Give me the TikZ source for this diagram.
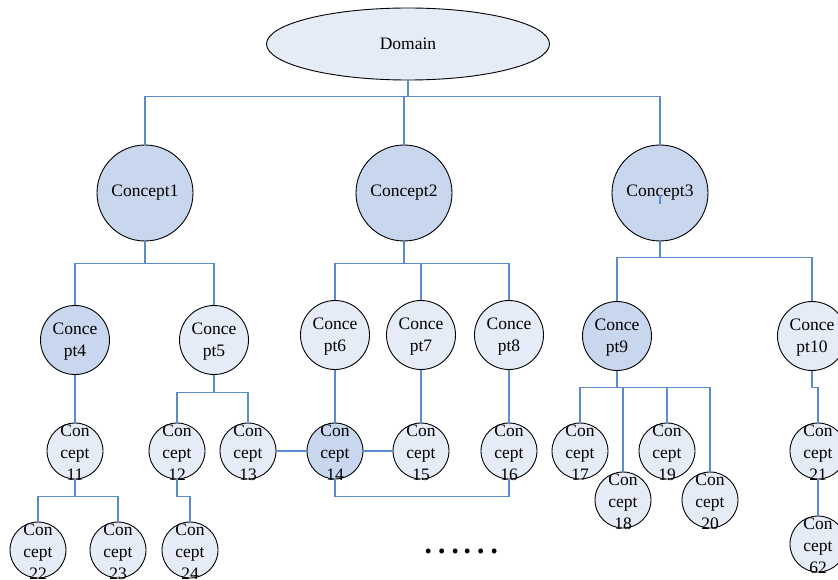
\documentclass[tikz,border=0pt]{standalone}
\usepackage{fontspec}
\setmainfont{Liberation Serif}
\newfontfamily\cjk{Noto Sans CJK SC}
\usetikzlibrary{shapes.geometric}
\definecolor{lightfill}{HTML}{E6ECF7}
\definecolor{darkfill}{HTML}{C9D7EE}
\definecolor{conncol}{HTML}{5A8AD2}
\begin{document}
\begin{tikzpicture}[x=1pt,y=-1pt,
  txt/.style={font=\fontsize{17.5}{22}\selectfont,align=center,text=black},
  lbl/.style={txt,yshift=-2pt},
  big/.style={circle,draw=black,line width=0.9pt,minimum size=96pt,inner sep=0pt,fill=darkfill},
  mid/.style={circle,draw=black,line width=0.9pt,minimum size=69pt,inner sep=0pt,fill=lightfill},
  small/.style={circle,draw=black,line width=0.9pt,minimum size=56pt,inner sep=0pt,fill=lightfill},
  dark/.style={fill=darkfill},
  conn/.style={draw=conncol,line width=1.1pt}]
\useasboundingbox (0,0) rectangle (838,580);
% nodes
\node[ellipse,draw=black,line width=0.9pt,fill=lightfill,minimum width=283pt,minimum height=72pt,inner sep=0pt,txt] (dom) at (408,44) {Domain};
\node[big,txt] (c1) at (145,193) {Concept1};
\node[big,txt] (c2) at (404,193) {Concept2};
\node[big,txt] (c3) at (660,193) {Concept3};
\node[mid,dark,label={[lbl]center:Conce\\pt4}] (c4) at (75,340) {};
\node[mid,label={[lbl]center:Conce\\pt5}] (c5) at (214,340) {};
\node[mid,label={[lbl]center:Conce\\pt6}] (c6) at (335,335) {};
\node[mid,label={[lbl]center:Conce\\pt7}] (c7) at (421,335) {};
\node[mid,label={[lbl]center:Conce\\pt8}] (c8) at (509,335) {};
\node[mid,dark,label={[lbl]center:Conce\\pt9}] (c9) at (617,336) {};
\node[mid,label={[lbl]center:Conce\\pt10}] (c10) at (812,336) {};
\node[small,label={[lbl]center:Con\\cept\\11}] (c11) at (75,451) {};
\node[small,label={[lbl]center:Con\\cept\\12}] (c12) at (177,451) {};
\node[small,label={[lbl]center:Con\\cept\\13}] (c13) at (248,451) {};
\node[small,dark,label={[lbl]center:Con\\cept\\14}] (c14) at (335,451) {};
\node[small,label={[lbl]center:Con\\cept\\15}] (c15) at (421,451) {};
\node[small,label={[lbl]center:Con\\cept\\16}] (c16) at (509,451) {};
\node[small,label={[lbl]center:Con\\cept\\17}] (c17) at (580,451) {};
\node[small,label={[lbl]center:Con\\cept\\18}] (c18) at (623,500) {};
\node[small,label={[lbl]center:Con\\cept\\19}] (c19) at (667,451) {};
\node[small,label={[lbl]center:Con\\cept\\20}] (c20) at (710,500) {};
\node[small,label={[lbl]center:Con\\cept\\21}] (c21) at (818,451) {};
\node[small,label={[lbl]center:Con\\cept\\22}] (c22) at (38,550) {};
\node[small,label={[lbl]center:Con\\cept\\23}] (c23) at (118,550) {};
\node[small,label={[lbl]center:Con\\cept\\24}] (c24) at (190,550) {};
\node[small,label={[lbl]center:Con\\cept\\62}] (c62) at (818,544) {};
\node[font=\cjk\fontsize{36}{36}\selectfont,inner sep=0pt] (dots) at (461,551) {……};
% connectors
\draw[conn] (dom.south) -- ++(0,16) coordinate (db);
\draw[conn] (db) -| (c1.north);
\draw[conn] (db) -| (c2.north);
\draw[conn] (db) -| (c3.north);
\draw[conn] (c3.center) ++(0,2) coordinate (tk) -- ++(0,9);
\draw[conn] (c1.south) -- ++(0,22) coordinate (b1);
\draw[conn] (b1) -| (c4.north);
\draw[conn] (b1) -| (c5.north);
\draw[conn] (c2.south) -- ++(0,22) coordinate (b2);
\draw[conn] (b2) -| (c6.north);
\draw[conn] (b2) -| (c7.north);
\draw[conn] (b2) -| (c8.north);
\draw[conn] (c3.south) -- ++(0,16) coordinate (b3);
\draw[conn] (b3) -| (c9.north);
\draw[conn] (b3) -| (c10.north);
\draw[conn] (c4.south) -- (c11.north);
\draw[conn] (c5.south) -- ++(0,17.5) coordinate (b5);
\draw[conn] (b5) -| (c12.north);
\draw[conn] (b5) -| (c13.north);
\draw[conn] (c6.south) -- (c14.north);
\draw[conn] (c7.south) -- (c15.north);
\draw[conn] (c8.south) -- (c16.north);
\draw[conn] (c9.south) -- ++(0,16.5) coordinate (b9);
\draw[conn] (b9) -| (c17.north);
\draw[conn] (b9) -| (c18.north);
\draw[conn] (b9) -| (c19.north);
\draw[conn] (b9) -| (c20.north);
\draw[conn] (c10.south) -- ++(0,16.5) -| (c21.north);
\draw[conn] (c21.south) -- (c62.north);
\draw[conn] (c11.south) -- ++(0,17) coordinate (b11);
\draw[conn] (b11) -| (c22.north);
\draw[conn] (b11) -| (c23.north);
\draw[conn] (c12.south) -- ++(0,17) -| (c24.north);
\draw[conn] (c13.east) -- (c14.west);
\draw[conn] (c14.east) -- (c15.west);
\draw[conn] (c14.south) -- ++(0,17) -| (c16.south);
\end{tikzpicture}
\end{document}
